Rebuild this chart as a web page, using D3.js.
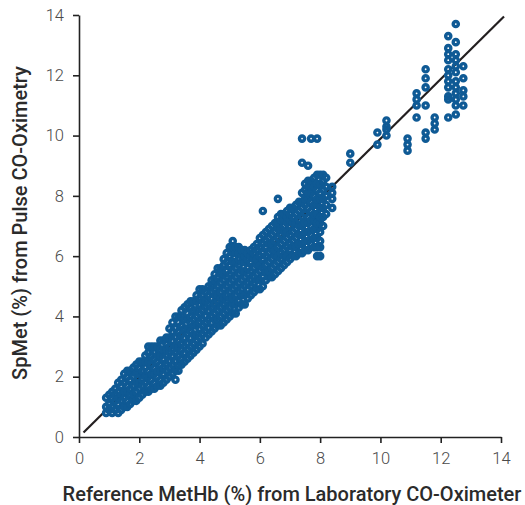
<!DOCTYPE html>
<html>
<head>
<meta charset="utf-8">
<script src="https://cdn.jsdelivr.net/npm/d3@7"></script>
<style>
  body { margin: 0; background: #fff; }
  svg { display: block; }
  .tick-label { font-family: Roboto, "Open Sans", sans-serif; font-weight: 300; font-size: 16.5px; fill: #4a4a4a; }
  .axis-title { font-family: Roboto, "Open Sans", sans-serif; font-weight: 500; font-size: 20px; fill: #2b2b2b; }
</style>
</head>
<body>
<svg id="chart"></svg>
<script>
const WIDTH = 525;
const HEIGHT = 505;
const PLOT = { left: 79, top: 15, size: 422 };

const xTicks = [0, 2, 4, 6, 8, 10, 12, 14];
const yTicks = [0, 2, 4, 6, 8, 10, 12, 14];

// reference MetHb (lab CO-oximeter), one entry per column of readings
const refMetHb = [
  0.9, 1.0, 1.1, 1.2, 1.3, 1.4, 1.5, 1.6, 1.7, 1.8, 1.9,
  2.0, 2.1, 2.2, 2.3, 2.4, 2.5, 2.6, 2.7, 2.8, 2.9,
  3.0, 3.1, 3.2, 3.3, 3.4, 3.5, 3.6, 3.7, 3.8, 3.9,
  4.0, 4.1, 4.2, 4.3, 4.4, 4.5, 4.6, 4.7, 4.8, 4.9,
  5.0, 5.1, 5.2, 5.3, 5.4, 5.5, 5.6, 5.7, 5.8, 5.9,
  6.0, 6.1, 6.2, 6.3, 6.4, 6.5, 6.6, 6.7, 6.8, 6.9,
  7.0, 7.1, 7.2, 7.3, 7.4, 7.5, 7.6, 7.7, 7.8, 7.9,
  8.0, 8.1, 8.2, 8.4,
  9.0, 9.9, 10.2, 10.9, 11.2, 11.5, 11.8, 12.25, 12.5, 12.75
];

// SpMet readings (pulse CO-oximetry) for each reference value above
const spMet = [
  [0.8, 1.0, 1.3],
  [0.9, 1.1, 1.4],
  [0.8, 1.0, 1.3, 1.5],
  [0.9, 1.2, 1.4, 1.6],
  [0.8, 1.1, 1.3, 1.5, 1.8],
  [0.9, 1.2, 1.4, 1.7, 1.9],
  [1.0, 1.3, 1.5, 1.8, 2.1],
  [1.0, 1.2, 1.5, 1.7, 2.0, 2.2],
  [1.1, 1.4, 1.6, 1.9, 2.2],
  [1.2, 1.4, 1.7, 2.0, 2.3],
  [1.2, 1.5, 1.8, 2.1, 2.4],
  [1.3, 1.6, 1.8, 2.1, 2.3, 2.5],
  [1.4, 1.7, 1.9, 2.2, 2.5],
  [1.5, 1.8, 2.0, 2.3, 2.5, 2.7],
  [1.5, 1.7, 2.0, 2.2, 2.5, 2.8, 3.0],
  [1.6, 1.9, 2.1, 2.4, 2.7, 3.0],
  [1.6, 1.8, 2.1, 2.3, 2.6, 2.8, 3.0],
  [1.7, 2.0, 2.2, 2.5, 2.7, 3.0],
  [1.7, 1.9, 2.2, 2.4, 2.7, 2.9, 3.2],
  [1.8, 2.1, 2.3, 2.6, 2.9, 3.2],
  [1.9, 2.2, 2.4, 2.7, 2.9, 3.1, 3.3],
  [2.0, 2.3, 2.5, 2.8, 3.0, 3.3, 3.6],
  [2.1, 2.4, 2.7, 2.9, 3.2, 3.5, 3.8],
  [1.9, 2.2, 2.5, 2.8, 3.0, 3.3, 3.6, 4.0],
  [2.2, 2.4, 2.7, 3.0, 3.2, 3.5, 3.8, 4.0],
  [2.4, 2.6, 2.9, 3.1, 3.4, 3.7, 4.0, 4.2],
  [2.5, 2.8, 3.0, 3.3, 3.6, 3.9, 4.3],
  [2.6, 2.9, 3.1, 3.4, 3.6, 3.9, 4.1, 4.4],
  [2.7, 3.0, 3.3, 3.5, 3.8, 4.0, 4.3, 4.5],
  [2.8, 3.1, 3.4, 3.7, 3.9, 4.2, 4.5],
  [2.9, 3.2, 3.4, 3.7, 4.0, 4.2, 4.5, 4.7],
  [3.0, 3.3, 3.6, 3.8, 4.1, 4.4, 4.6, 4.9],
  [3.1, 3.4, 3.7, 3.9, 4.2, 4.5, 4.7, 4.9],
  [3.3, 3.5, 3.8, 4.0, 4.3, 4.5, 4.8],
  [3.4, 3.6, 3.9, 4.2, 4.4, 4.7, 5.0],
  [3.5, 3.8, 4.0, 4.3, 4.6, 4.8, 5.0, 5.2],
  [3.6, 3.9, 4.1, 4.4, 4.7, 4.9, 5.2, 5.4],
  [3.7, 3.9, 4.2, 4.5, 4.7, 5.0, 5.3, 5.6],
  [3.7, 4.0, 4.3, 4.6, 4.8, 5.1, 5.4, 5.6],
  [3.8, 4.1, 4.4, 4.6, 4.9, 5.2, 5.4, 5.7, 5.9],
  [3.9, 4.2, 4.5, 4.7, 5.0, 5.3, 5.5, 5.8, 6.1],
  [4.0, 4.3, 4.6, 4.8, 5.1, 5.4, 5.7, 6.0, 6.3],
  [4.1, 4.4, 4.6, 4.9, 5.2, 5.5, 5.8, 6.1, 6.3, 6.5],
  [4.1, 4.4, 4.7, 5.0, 5.3, 5.6, 5.8, 6.1, 6.3],
  [4.3, 4.5, 4.8, 5.1, 5.4, 5.7, 5.9, 6.1, 6.3],
  [4.4, 4.7, 4.9, 5.2, 5.5, 5.8, 6.0, 6.2],
  [4.4, 4.7, 5.0, 5.3, 5.5, 5.8, 6.0, 6.2],
  [4.6, 4.9, 5.1, 5.4, 5.6, 5.9, 6.1],
  [4.7, 5.0, 5.2, 5.5, 5.8, 6.0, 6.2],
  [4.8, 5.1, 5.3, 5.6, 5.9, 6.1, 6.3],
  [4.9, 5.2, 5.4, 5.7, 5.9, 6.2, 6.4],
  [4.9, 5.2, 5.5, 5.7, 6.0, 6.3, 6.6],
  [5.0, 5.3, 5.6, 5.9, 6.1, 6.4, 6.7, 7.5],
  [5.2, 5.5, 5.7, 6.0, 6.3, 6.5, 6.8],
  [5.3, 5.5, 5.8, 6.1, 6.4, 6.6, 6.9],
  [5.3, 5.6, 5.9, 6.2, 6.4, 6.7, 7.0],
  [5.4, 5.7, 6.0, 6.2, 6.5, 6.8, 7.1],
  [5.5, 5.8, 6.0, 6.3, 6.6, 6.9, 7.1, 7.3, 7.9],
  [5.6, 5.9, 6.1, 6.4, 6.7, 6.9, 7.2, 7.4],
  [5.7, 6.0, 6.2, 6.5, 6.8, 7.0, 7.2, 7.4],
  [5.8, 6.0, 6.3, 6.6, 6.8, 7.1, 7.3, 7.5],
  [5.9, 6.2, 6.4, 6.7, 7.0, 7.2, 7.4, 7.6],
  [6.0, 6.3, 6.5, 6.8, 7.1, 7.3, 7.6],
  [6.0, 6.3, 6.6, 6.9, 7.1, 7.4, 7.7],
  [6.1, 6.4, 6.7, 7.0, 7.2, 7.5, 7.8],
  [6.1, 6.4, 6.7, 7.0, 7.3, 7.6, 7.8, 8.1, 9.1, 9.9],
  [6.2, 6.5, 6.8, 7.1, 7.4, 7.7, 7.9, 8.2, 8.4],
  [6.2, 6.5, 6.8, 7.1, 7.3, 7.6, 7.9, 8.1, 8.3, 8.5, 9.0],
  [6.4, 6.7, 7.0, 7.2, 7.5, 7.8, 8.1, 8.3, 8.5, 9.9],
  [6.3, 6.6, 6.9, 7.2, 7.4, 7.7, 8.0, 8.3, 8.6],
  [6.0, 6.3, 6.6, 6.9, 7.1, 7.4, 7.7, 7.9, 8.2, 8.4, 8.7, 9.9],
  [6.0, 6.3, 6.5, 6.8, 7.1, 7.3, 7.6, 7.9, 8.1, 8.4, 8.7],
  [7.0, 7.3, 7.6, 7.9, 8.2, 8.5, 8.7],
  [7.4, 7.7, 8.0, 8.3, 8.6],
  [7.6, 7.9, 8.1, 8.3],
  [9.1, 9.4],
  [9.7, 10.1],
  [10.0, 10.2, 10.3, 10.5],
  [9.5, 9.7, 9.9],
  [10.6, 11.0, 11.2, 11.4],
  [9.9, 10.1, 11.0, 11.6, 11.9, 12.2],
  [10.2, 10.4, 10.6],
  [10.6, 11.2, 11.3, 11.6, 11.8, 12.0, 12.2, 12.5, 12.7, 12.9, 13.3],
  [10.7, 11.0, 11.2, 11.4, 11.6, 11.8, 12.1, 12.3, 12.5, 12.7, 13.1, 13.7],
  [11.0, 11.3, 11.5, 11.9, 12.3]
];

// agreement line drawn through the cloud
const lineStart = [0.15, 0.15];
const lineEnd = [14.1, 13.95];

const POINT_COLOR = '#0f5a95';
const AXIS_COLOR = '#222';

const svg = d3.select('#chart')
  .attr('width', WIDTH)
  .attr('height', HEIGHT);

const x = d3.scaleLinear().domain([0, 14]).range([PLOT.left, PLOT.left + PLOT.size]);
const y = d3.scaleLinear().domain([0, 14]).range([PLOT.top + PLOT.size, PLOT.top]);

// axes
const xAxis = svg.append('g')
  .attr('transform', `translate(0, ${PLOT.top + PLOT.size})`)
  .call(d3.axisBottom(x).tickValues(xTicks).tickSize(6).tickPadding(9).tickSizeOuter(0));

const yAxis = svg.append('g')
  .attr('transform', `translate(${PLOT.left}, 0)`)
  .call(d3.axisLeft(y).tickValues(yTicks).tickSize(6).tickPadding(9).tickSizeOuter(0));

[xAxis, yAxis].forEach(g => {
  g.select('.domain').attr('stroke', AXIS_COLOR).attr('stroke-width', 1.6);
  g.selectAll('.tick line').attr('stroke', AXIS_COLOR).attr('stroke-width', 1.6);
  g.selectAll('.tick text').attr('class', 'tick-label').attr('font-family', null).attr('font-size', null).attr('fill', null);
});

// line of identity under the points
svg.append('line')
  .attr('x1', x(lineStart[0]))
  .attr('y1', y(lineStart[1]))
  .attr('x2', x(lineEnd[0]))
  .attr('y2', y(lineEnd[1]))
  .attr('stroke', '#231f20')
  .attr('stroke-width', 2.2);

const points = refMetHb.flatMap((ref, i) => spMet[i].map(v => ({ ref, sp: v })));

svg.append('g')
  .selectAll('circle')
  .data(points)
  .enter()
  .append('circle')
  .attr('cx', d => x(d.ref))
  .attr('cy', d => y(d.sp))
  .attr('r', 2.6)
  .attr('fill', 'none')
  .attr('stroke', POINT_COLOR)
  .attr('stroke-width', 3.4);

// titles
svg.append('text')
  .attr('class', 'axis-title')
  .attr('text-anchor', 'middle')
  .attr('x', 292)
  .attr('y', 501)
  .text('Reference MetHb (%) from Laboratory CO-Oximeter');

svg.append('text')
  .attr('class', 'axis-title')
  .attr('text-anchor', 'middle')
  .attr('transform', 'translate(27, 223) rotate(-90)')
  .text('SpMet (%) from Pulse CO-Oximetry');
</script>
</body>
</html>
